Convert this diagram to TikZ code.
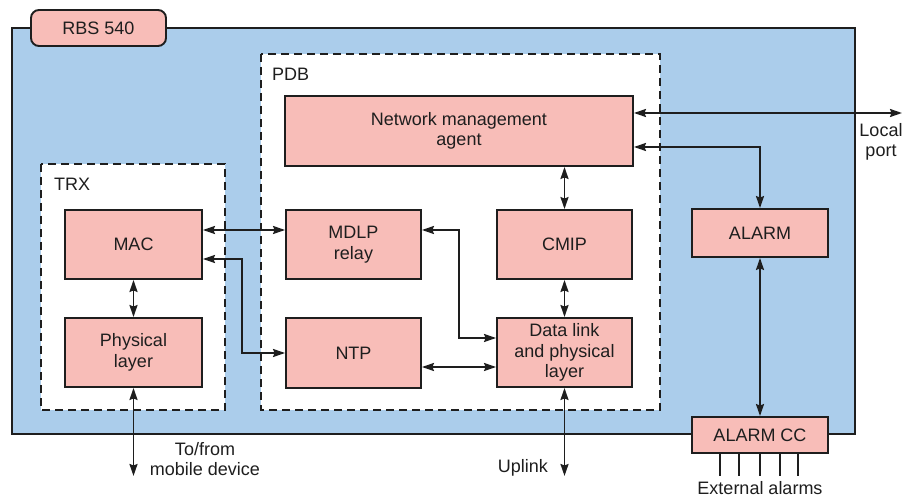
\documentclass[tikz,border=0pt]{standalone}
\usepackage{fontspec}
\setmainfont{Liberation Sans}
\usetikzlibrary{arrows.meta}
\definecolor{bgblue}{RGB}{171,205,235}
\definecolor{boxpink}{RGB}{248,189,184}
\definecolor{ink}{RGB}{30,30,30}
\begin{document}
\begin{tikzpicture}[x=1pt,y=-1pt,
  font=\fontsize{18}{20.5}\selectfont,
  >={Stealth[length=12pt,width=8pt,inset=1.5pt]},
  blk/.style={draw=ink, line width=1.9pt, fill=boxpink, inner sep=0pt, align=center, text=ink},
  dashbox/.style={draw=ink, line width=1.9pt, fill=white, dash pattern=on 8pt off 5pt},
  conn/.style={draw=ink, line width=1.9pt, <->},
  wire/.style={draw=ink, line width=1.9pt},
  lbl/.style={align=center, inner sep=0pt, text=ink}]
\useasboundingbox (0,0) rectangle (903,497);
\fill[white] (0,0) rectangle (903,497);
% main board
\draw[draw=ink, line width=1.9pt, fill=bgblue] (12,28) rectangle (855,434);
\node[blk, rounded corners=8pt, minimum width=135pt, minimum height=36pt] (rbs) at (98.5,28) {RBS 540};
% dashed groups
\draw[dashbox] (41,164) rectangle (225,410);
\draw[dashbox] (261,54) rectangle (660,410);
\node[lbl, anchor=west] (trx) at (54,184) {TRX};
\node[lbl, anchor=west] (pdb) at (272,74) {PDB};
% blocks
\node[blk, minimum width=348pt, minimum height=70pt] (nma) at (459,131) {Network management\\agent};
\node[blk, minimum width=137pt, minimum height=69pt] (mac) at (133.5,244.5) {MAC};
\node[blk, minimum width=137pt, minimum height=69pt] (phy) at (133.5,352.5) {Physical\\layer};
\node[blk, minimum width=135pt, minimum height=69pt] (mdlp) at (353.5,244.5) {MDLP\\relay};
\node[blk, minimum width=135pt, minimum height=70pt] (ntp) at (353.5,353) {NTP};
\node[blk, minimum width=135pt, minimum height=69pt] (cmip) at (564.5,244.5) {CMIP};
\node[blk, minimum width=135pt, minimum height=69pt] (dl) at (564.5,352.5) {Data link\\and physical\\layer};
\node[blk, minimum width=136pt, minimum height=48pt] (alarm) at (760,233) {ALARM};
\node[blk, minimum width=136pt, minimum height=36pt] (alarmcc) at (760,435) {ALARM CC};
% helper coordinates
\coordinate (y113) at (0,113);
\coordinate (y147) at (0,147);
\coordinate (y230) at (0,230);
\coordinate (y259) at (0,259);
\coordinate (y338) at (0,338);
\coordinate (y367) at (0,367);
\coordinate (lp) at (902,113);
\coordinate (ak) at (760,147);
\coordinate (mk) at (242,259);
\coordinate (mk2) at (242,353);
\coordinate (dk) at (459,230);
\coordinate (dk2) at (459,338);
\coordinate (mob) at (133.5,476);
\coordinate (upl) at (564.5,476);
% connectors
\draw[conn] (nma.east |- y113) -- (lp);
\draw[conn] (nma.east |- y147) -- (ak) -- (alarm.north);
\draw[conn] (alarm.south) -- (alarmcc.north);
\draw[conn] (nma.south -| cmip.north) -- (cmip.north);
\draw[conn] (cmip.south) -- (dl.north);
\draw[conn] (mac.east |- y230) -- (mdlp.west |- y230);
\draw[conn] (mac.east |- y259) -- (mk) -- (mk2) -- (ntp.west);
\draw[conn] (mdlp.east |- y230) -- (dk) -- (dk2) -- (dl.west |- y338);
\draw[conn] (ntp.east |- y367) -- (dl.west |- y367);
\draw[conn] (mac.south) -- (phy.north);
\draw[conn] (phy.south) -- (mob);
\draw[conn] (dl.south) -- (upl);
% external alarm wires
\foreach \xx in {720,739,760,780,798} {
  \coordinate (ea\xx) at (\xx,476);
  \draw[wire] (alarmcc.south -| ea\xx) -- (ea\xx);
}
% labels
\node[lbl] (lport) at (881,142) {Local\\port};
\node[lbl] (mobl) at (205,459) {To/from\\mobile device};
\node[lbl] (uplk) at (523,468) {Uplink};
\node[lbl] (extl) at (760,488) {External alarms};
\end{tikzpicture}
\end{document}
